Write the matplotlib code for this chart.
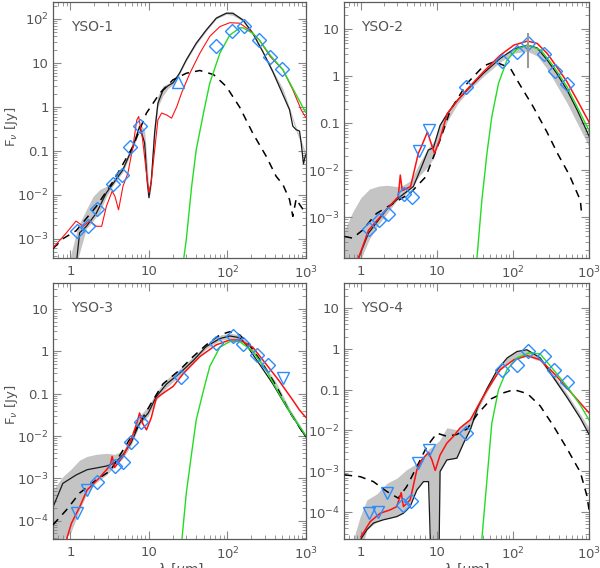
import numpy as np
import matplotlib
matplotlib.use('Agg')
import matplotlib.pyplot as plt
from matplotlib.ticker import FixedLocator, FuncFormatter, LogLocator, NullFormatter

# ---------------- YSO-1 ----------------
yso1_band_wl = [1.0, 1.25, 1.6, 1.94, 2.36, 2.87, 3.48, 4.67, 6.26, 7.6, 8.8, 9.5, 10, 10.7, 11.8, 13,
                15.1, 17.5, 20.2, 24.5, 29.9, 40, 53.7, 72, 96.5, 117, 157, 210, 282, 378, 507, 617,
                750, 868, 986]
yso1_band_lo = [3e-4, 3.6e-4, 1.7e-3, 2.5e-3, 4e-3, 0.009, 0.016, 0.033, 0.11, 0.3, 0.13, 0.02, 0.008,
                0.015, 0.2, 1.0, 1.8, 2.6, 3.2, 5.5, 11, 26, 53, 100, 128, 120, 88, 44, 16, 5.6, 2.0,
                0.8, 0.28, 0.14, 0.07]
yso1_band_hi = [4e-4, 1.9e-3, 4.6e-3, 9.1e-3, 0.013, 0.0155, 0.022, 0.045, 0.16, 0.42, 0.3, 0.05, 0.012,
                0.04, 0.5, 1.8, 3.0, 3.4, 3.8, 6.5, 13, 31, 62, 115, 145, 142, 102, 51, 19, 6.8, 2.6,
                0.95, 0.34, 0.17, 0.09]
yso1_best_wl = [1.21, 1.31, 1.6, 2.14, 2.87, 3.66, 4.67, 6.26, 7.6, 8.8, 9.5, 10, 10.7, 11.8, 13, 15.1,
                17.5, 20.2, 24.5, 29.9, 40, 53.7, 72, 96.5, 117, 157, 210, 282, 378, 507, 617, 680,
                750, 827, 868, 929, 986]
yso1_best_f = [3.6e-4, 1.35e-3, 1.9e-3, 3.8e-3, 0.011, 0.02, 0.037, 0.125, 0.357, 0.15, 0.02, 0.0085,
               0.02, 0.25, 1.2, 2.4, 3.0, 3.5, 5.8, 11.7, 28, 56, 104, 135, 135, 95, 47, 18, 6.3, 1.9,
               0.855, 0.36, 0.3, 0.28, 0.15, 0.05, 0.08]
yso1_red_wl = [0.6, 0.89, 1.18, 1.45, 1.76, 2.14, 2.5, 2.87, 3.4, 3.7, 4.1, 4.67, 5.4, 6.26, 7.0, 7.4,
               8.3, 9.3, 10, 10.7, 11.8, 13, 14.5, 16.8, 19.4, 22.6, 26, 33.2, 44.5, 59.5, 80, 107,
               143, 190, 255, 350, 507, 680, 868, 986]
yso1_red_f = [6.1e-4, 1.35e-3, 2.5e-3, 1.9e-3, 2.5e-3, 1.9e-3, 1.9e-3, 5.4e-3, 0.012, 0.009, 0.0045,
              0.0155, 0.031, 0.125, 0.5, 0.6, 0.18, 0.03, 0.011, 0.02, 0.1, 0.5, 0.72, 0.65, 0.55,
              1.0, 2.05, 5.8, 16.6, 40, 67, 82, 80, 56, 33, 13.9, 7.0, 2.43, 0.855, 0.58]
yso1_green_wl = [27.8, 29.9, 35, 40, 49.5, 59.5, 80, 107, 143, 157, 210, 255, 350, 507, 680, 986]
yso1_green_f = [3.6e-4, 9.5e-4, 0.0155, 0.105, 0.72, 3.45, 16.6, 43, 62, 63, 47, 33, 15, 7, 2.6, 0.75]
yso1_dash_wl = [0.6, 0.81, 1.18, 2.14, 3.5, 6.26, 9.3, 13.8, 20.2, 29.9, 44.5, 66.6, 96.5, 143, 210,
                312, 417, 507, 617, 680, 750, 827, 986]
yso1_dash_f = [5.9e-4, 1e-3, 1.5e-3, 5.4e-3, 0.02, 0.125, 0.72, 2.05, 4.1, 5.8, 6.7, 5.4, 2.9, 0.98,
               0.25, 0.074, 0.026, 0.017, 0.0077, 0.0032, 0.008, 0.006, 0.0038]
yso1_det_wl = [1.21, 1.67, 2.2, 3.5, 4.5, 5.8, 7.8, 70.6, 114, 160, 250, 350, 500]
yso1_det_f = [1.5e-3, 1.9e-3, 4.8e-3, 0.017, 0.0285, 0.119, 0.356, 24.6, 53, 69, 33, 13.9, 7.3]
yso1_low_wl = [23.4]
yso1_low_f = [3.76]

# ---------------- YSO-2 ----------------
yso2_band_wl = [0.6, 0.78, 1.0, 1.3, 1.7, 2.2, 3.0, 3.6, 4.5, 6.0, 7.7, 9.0, 11, 13.7, 18.7, 25, 41,
                68, 103, 155, 208, 280, 375, 514, 700, 1020]
yso2_band_lo = [1.3e-4, 1.3e-4, 1.3e-4, 3.5e-4, 7e-4, 1.2e-3, 2.3e-3, 2.8e-3, 4e-3, 8e-3, 0.012,
                0.018, 0.045, 0.11, 0.26, 0.46, 1.0, 2.0, 3.1, 3.4, 2.7, 1.45, 0.65, 0.27, 0.1, 0.03]
yso2_band_hi = [5e-4, 1.3e-3, 2.6e-3, 4e-3, 4.6e-3, 4.8e-3, 4.5e-3, 4.8e-3, 6e-3, 0.015, 0.03, 0.04,
                0.1, 0.18, 0.33, 0.53, 1.2, 2.5, 4.0, 4.8, 4.2, 2.4, 1.25, 0.55, 0.2, 0.05]
yso2_best_wl = [0.93, 1.26, 2.24, 3.29, 4.9, 6.3, 7.7, 9.0, 11, 13.7, 18.7, 25, 41, 68, 103, 155, 208,
                280, 375, 514, 700, 1020]
yso2_best_f = [1.35e-4, 4.6e-4, 1.55e-3, 2.75e-3, 4.5e-3, 0.012, 0.027, 0.03, 0.09, 0.16, 0.31, 0.51,
               1.16, 2.4, 3.8, 4.6, 4.0, 2.25, 1.16, 0.51, 0.19, 0.05]
yso2_red_wl = [0.93, 1.26, 2.24, 3.1, 3.3, 3.5, 4.5, 5.7, 6.3, 7.5, 8.6, 9.3, 10.8, 13.7, 18.7, 25,
               41, 68, 103, 155, 208, 280, 375, 514, 700, 1020]
yso2_red_f = [1.35e-4, 5.3e-4, 1.55e-3, 2.75e-3, 7.9e-3, 3.7e-3, 4.5e-3, 0.023, 0.033, 0.065, 0.033,
              0.023, 0.043, 0.16, 0.31, 0.53, 1.25, 2.8, 4.6, 5.6, 5.0, 3.1, 1.6, 0.76, 0.31, 0.1]
yso2_green_wl = [33.6, 39, 45.5, 52.7, 64.6, 83.5, 113, 157, 233, 345, 514, 1020]
yso2_green_f = [1.35e-4, 2.3e-3, 0.023, 0.138, 0.71, 2.2, 3.8, 4.6, 3.6, 1.6, 0.6, 0.066]
yso2_dash_wl = [0.61, 0.78, 1.05, 1.6, 2.7, 4.4, 7.1, 11, 15, 25, 41, 57, 92, 120, 183, 280, 390,
                550, 769, 800]
yso2_dash_f = [3.9e-4, 3.6e-4, 5.3e-4, 1.2e-3, 2e-3, 3.2e-3, 7.2e-3, 0.044, 0.19, 0.71, 1.65, 2.05,
               1.5, 0.71, 0.23, 0.065, 0.022, 8e-3, 2.3e-3, 1.2e-3]
yso2_det_wl = [1.26, 1.71, 2.24, 3.64, 4.69, 24, 71.6, 113, 157, 253, 360, 514]
yso2_det_f = [5.6e-4, 8.8e-4, 1.16e-3, 3.1e-3, 2.75e-3, 0.58, 2.15, 3.34, 5.0, 2.98, 1.32, 0.69]
yso2_lim_wl = [5.73, 7.9]
yso2_lim_f = [0.026, 0.072]
yso2_err_wl = [157]
yso2_err_lo = [1.5]
yso2_err_hi = [8.5]

# ---------------- YSO-3 ----------------
yso3_band_wl = [0.6, 0.8, 1.0, 1.31, 1.63, 2.14, 2.87, 3.66, 4.67, 5.9, 7.6, 9.8, 12.4, 16.8, 24.5,
                36.5, 53.7, 80, 107, 143, 190, 282, 420, 617, 986]
yso3_band_lo = [3.7e-5, 3.7e-5, 5e-5, 1.8e-4, 4.5e-4, 8e-4, 1.2e-3, 1.9e-3, 3e-3, 6e-3, 0.018, 0.03,
                0.07, 0.14, 0.26, 0.55, 1.15, 1.8, 2.0, 1.8, 1.2, 0.45, 0.14, 0.035, 0.009]
yso3_band_hi = [5.3e-4, 1.1e-3, 1.6e-3, 2.7e-3, 3.3e-3, 3.7e-3, 3.9e-3, 3.7e-3, 4.5e-3, 9e-3, 0.03,
                0.05, 0.11, 0.22, 0.38, 0.75, 1.45, 2.4, 2.7, 2.4, 1.5, 0.55, 0.18, 0.045, 0.011]
yso3_best_wl = [0.6, 0.8, 1.18, 1.63, 2.87, 3.66, 4.67, 5.9, 7.6, 9.8, 12.4, 16.8, 24.5, 36.5, 53.7,
                80, 107, 143, 170, 255, 378, 560, 986]
yso3_best_f = [2.1e-4, 7.6e-4, 1.2e-3, 1.6e-3, 1.95e-3, 2.3e-3, 3.6e-3, 6.8e-3, 0.02, 0.035, 0.085,
               0.17, 0.3, 0.6, 1.3, 2.0, 2.3, 2.1, 1.5, 0.5, 0.17, 0.05, 0.0097]
yso3_red_wl = [0.89, 1.03, 1.31, 1.63, 2.3, 3.2, 3.4, 3.66, 4.67, 5.9, 7.0, 7.6, 8.3, 9.3, 10.7, 12.4,
               16.8, 20.2, 27.5, 44.5, 72, 107, 143, 210, 310, 455, 680, 827, 986]
yso3_red_f = [3.6e-5, 8.7e-5, 2.1e-4, 5.3e-4, 1e-3, 2e-3, 3.3e-3, 1.8e-3, 3.3e-3, 8e-3, 0.02, 0.035,
              0.02, 0.014, 0.027, 0.078, 0.117, 0.147, 0.3, 0.75, 1.42, 1.85, 1.85, 1.25, 0.5, 0.2,
              0.07, 0.041, 0.028]
yso3_green_wl = [26.3, 29.9, 35, 40, 49.5, 59.5, 80, 107, 143, 210, 310, 455, 680, 986]
yso3_green_f = [3.6e-5, 4.5e-4, 4e-3, 0.024, 0.12, 0.44, 1.25, 1.7, 1.7, 1.0, 0.36, 0.1, 0.028, 0.0106]
yso3_dash_wl = [0.6, 0.89, 1.31, 2.14, 3.2, 3.66, 5.0, 7.6, 10.7, 15.1, 24.5, 36.5, 53.7, 80, 107,
                143, 190, 282, 420, 617, 986]
yso3_dash_f = [8e-5, 1.8e-4, 4.5e-4, 9.2e-4, 1.5e-3, 2.2e-3, 5.7e-3, 0.02, 0.06, 0.17, 0.36, 0.75,
               1.42, 2.45, 2.9, 2.45, 1.42, 0.5, 0.15, 0.037, 0.0097]
yso3_det_wl = [2.2, 3.66, 4.67, 5.9, 7.9, 25.4, 72, 117, 157, 237, 330]
yso3_det_f = [8e-4, 2.0e-3, 2.4e-3, 7.4e-3, 0.022, 0.254, 1.56, 2.24, 1.45, 0.8, 0.48]
yso3_lim_wl = [1.21, 1.63, 507]
yso3_lim_f = [1.5e-4, 5.3e-4, 0.23]

# ---------------- YSO-4 ----------------
yso4_band_wl = [0.8, 0.98, 1.2, 1.62, 2.2, 2.97, 4.0, 5.45, 6.66, 7.4, 7.76, 8.6, 10.5, 11.0, 13.5,
                18.3, 22.4, 27.5, 34, 46, 62.5, 84, 113, 153, 228, 340, 514, 769, 1020]
yso4_band_lo = [1e-5, 1e-5, 3.7e-5, 5.8e-5, 7e-5, 7.8e-5, 1.1e-4, 3.5e-4, 5.6e-4, 5.6e-4, 5.6e-4,
                1e-6, 1e-6, 9.9e-4, 1.9e-3, 2.1e-3, 4.9e-3, 0.0104, 0.03, 0.09, 0.25, 0.45, 0.6, 0.65,
                0.5, 0.18, 0.06, 0.019, 0.0075]
yso4_band_hi = [2.2e-5, 7.8e-5, 2e-4, 2.8e-4, 5.1e-4, 6.8e-4, 1.1e-3, 1.57e-3, 2.4e-3, 3e-3, 3.5e-3,
                4e-3, 5.4e-3, 6e-3, 0.0117, 0.0104, 0.015, 0.02, 0.04, 0.12, 0.33, 0.65, 0.92, 0.95,
                0.65, 0.24, 0.08, 0.025, 0.011]
yso4_best_wl = [1.0, 1.2, 1.46, 1.98, 2.43, 2.97, 3.63, 4.45, 5.45, 6.66, 7.76, 8.6, 10.5, 11.0, 13.5,
                18.3, 22.4, 27.5, 34, 46, 62.5, 84, 113, 153, 228, 340, 514, 769, 1020]
yso4_best_f = [2.2e-5, 3.7e-5, 5.4e-5, 6.5e-5, 7.1e-5, 7.8e-5, 9.4e-5, 1.37e-4, 3.5e-4, 5.6e-4,
               5.6e-4, 1e-6, 1e-6, 9.9e-4, 1.9e-3, 2.1e-3, 4.9e-3, 0.0104, 0.035, 0.11, 0.31, 0.6,
               0.86, 0.95, 0.6, 0.2, 0.065, 0.02, 0.0075]
yso4_red_wl = [1.0, 1.33, 1.8, 2.43, 2.97, 3.39, 3.63, 4.45, 5.45, 6.3, 7.76, 8.6, 9.5, 11.0, 13.5,
               16.5, 20.2, 27.5, 37, 46, 68, 103, 155, 228, 340, 514, 769, 1020]
yso4_red_f = [2.5e-5, 5.9e-5, 9.4e-5, 1.14e-4, 1.37e-4, 3e-4, 1.37e-4, 2e-4, 1.09e-3, 1.9e-3, 2.9e-3,
              1.9e-3, 1.05e-3, 2.5e-3, 4.9e-3, 7.2e-3, 0.0116, 0.0183, 0.05, 0.1, 0.31, 0.54, 0.68,
              0.54, 0.26, 0.11, 0.047, 0.026]
yso4_green_wl = [39, 45.5, 52.7, 64.6, 83.5, 113, 165, 228, 340, 514, 769, 1020]
yso4_green_f = [2.2e-5, 6.2e-4, 0.015, 0.1, 0.31, 0.6, 0.8, 0.75, 0.31, 0.12, 0.042, 0.017]
yso4_dash_wl = [0.61, 0.98, 1.46, 2.2, 3.1, 4.0, 5.45, 7.4, 10, 13.5, 18.3, 25, 34, 52, 77, 103, 155,
                228, 340, 514, 769, 940, 1020]
yso4_dash_f = [8.2e-4, 7.4e-4, 5.6e-4, 3.2e-4, 2.2e-4, 4.2e-4, 1.3e-3, 4.1e-3, 8.6e-3, 7.2e-3, 8e-3,
               0.011, 0.025, 0.06, 0.085, 0.1, 0.08, 0.04, 0.013, 3.6e-3, 9.5e-4, 2.5e-4, 9e-5]
yso4_det_wl = [3.56, 4.5, 24, 71.6, 113, 157, 253, 350, 514]
yso4_det_f = [1.5e-4, 1.9e-4, 8.6e-3, 0.31, 0.4, 0.88, 0.68, 0.3, 0.15]
yso4_lim_wl = [1.26, 1.7, 2.2, 5.7, 7.9]
yso4_lim_f = [9.4e-5, 1.0e-4, 3e-4, 1.57e-3, 3.4e-3]

names = ['YSO-1', 'YSO-2', 'YSO-3', 'YSO-4']
ylims = [(3.6e-4, 243), (1.36e-4, 38), (3.7e-5, 41), (2.2e-5, 41)]

W, H = 600, 568
# axes boxes in pixels: left, top, right, bottom
boxes = [(53, 2, 306, 258), (344, 2, 589, 258), (53, 283, 306, 539), (344, 283, 589, 539)]

blue = '#2b8cff'
frame = '#5a5a5a'


def tick_text(v, pos):
    e = int(round(np.log10(v)))
    if e == -1:
        return '0.1'
    if e == 0:
        return '1'
    if e == 1:
        return '10'
    return r'$10^{%d}$' % e


fig = plt.figure(figsize=(W / 100, H / 100), dpi=100)

panels = [
    (yso1_band_wl, yso1_band_lo, yso1_band_hi, yso1_best_wl, yso1_best_f, yso1_red_wl, yso1_red_f,
     yso1_green_wl, yso1_green_f, yso1_dash_wl, yso1_dash_f, yso1_det_wl, yso1_det_f, [], []),
    (yso2_band_wl, yso2_band_lo, yso2_band_hi, yso2_best_wl, yso2_best_f, yso2_red_wl, yso2_red_f,
     yso2_green_wl, yso2_green_f, yso2_dash_wl, yso2_dash_f, yso2_det_wl, yso2_det_f, yso2_lim_wl, yso2_lim_f),
    (yso3_band_wl, yso3_band_lo, yso3_band_hi, yso3_best_wl, yso3_best_f, yso3_red_wl, yso3_red_f,
     yso3_green_wl, yso3_green_f, yso3_dash_wl, yso3_dash_f, yso3_det_wl, yso3_det_f, yso3_lim_wl, yso3_lim_f),
    (yso4_band_wl, yso4_band_lo, yso4_band_hi, yso4_best_wl, yso4_best_f, yso4_red_wl, yso4_red_f,
     yso4_green_wl, yso4_green_f, yso4_dash_wl, yso4_dash_f, yso4_det_wl, yso4_det_f, yso4_lim_wl, yso4_lim_f),
]

for i, p in enumerate(panels):
    (bwl, blo, bhi, kwl, kf, rwl, rf, gwl, gf, dwl, df, mwl, mf, lwl, lf) = p
    l, t, r, b = boxes[i]
    ax = fig.add_axes([l / W, 1 - b / H, (r - l) / W, (b - t) / H])
    ax.set_xscale('log')
    ax.set_yscale('log')

    ax.fill_between(bwl, blo, bhi, color='#c4c4c4', lw=0, zorder=1)
    ax.plot(kwl, kf, color='#1a1a1a', lw=0.9, zorder=2)
    ax.plot(dwl, df, color='black', lw=1.1, ls=(0, (5, 4)), zorder=3)
    # red model is drawn a bit thinner in the first panel
    ax.plot(rwl, rf, color='#ff1010', lw=0.8 if i == 0 else 1.1, zorder=4)
    ax.plot(gwl, gf, color='#22dd22', lw=1.0, zorder=5)
    ax.plot(mwl, mf, ls='none', marker='D', ms=7.5, mfc='none', mec=blue, mew=1.0, zorder=6)
    if lwl:
        ax.plot(lwl, lf, ls='none', marker='v', ms=8.5, mfc='none', mec=blue, mew=1.0, zorder=6)
    if i == 0:
        ax.plot(yso1_low_wl, yso1_low_f, ls='none', marker='^', ms=8.5, mfc='none', mec=blue,
                mew=1.0, zorder=6)
    if i == 1:
        ax.vlines(yso2_err_wl, yso2_err_lo, yso2_err_hi, color='#999999', lw=1.5, zorder=7)

    ax.set_xlim(0.6, 1000)
    ax.set_ylim(*ylims[i])

    ax.xaxis.set_major_locator(FixedLocator([1, 10, 100, 1000]))
    ax.xaxis.set_minor_locator(LogLocator(base=10, subs=np.arange(2, 10), numticks=20))
    ax.yaxis.set_major_locator(LogLocator(base=10, numticks=20))
    ax.yaxis.set_minor_locator(LogLocator(base=10, subs=np.arange(2, 10), numticks=20))
    ax.xaxis.set_major_formatter(FuncFormatter(tick_text))
    ax.yaxis.set_major_formatter(FuncFormatter(tick_text))
    ax.xaxis.set_minor_formatter(NullFormatter())
    ax.yaxis.set_minor_formatter(NullFormatter())
    ax.tick_params(which='both', direction='in', top=True, right=True, colors='#888888',
                   labelcolor='#555555', labelsize=9.5)
    ax.tick_params(which='major', length=6, width=0.8)
    ax.tick_params(which='minor', length=3, width=0.6)
    ax.tick_params(axis='x', pad=5)
    ax.tick_params(axis='y', pad=3)
    for s in ax.spines.values():
        s.set_color(frame)
        s.set_linewidth(0.9)

    ax.text(0.07, 0.93, names[i], transform=ax.transAxes, fontsize=10, color='#555555',
            ha='left', va='top')

# axis titles
fig.text(12 / W, 1 - 127 / H, r'F$_\nu$ [Jy]', rotation=90, ha='center', va='center',
         fontsize=9.5, color='#555555')
fig.text(12 / W, 1 - 405 / H, r'F$_\nu$ [Jy]', rotation=90, ha='center', va='center',
         fontsize=9.5, color='#555555')
fig.text(181 / W, 1 - 561 / H, r'$\lambda$ [$\mu$m]', ha='center', va='top', fontsize=10,
         color='#555555')
fig.text(467 / W, 1 - 561 / H, r'$\lambda$ [$\mu$m]', ha='center', va='top', fontsize=10,
         color='#555555')

fig.savefig('out.png', dpi=100)
